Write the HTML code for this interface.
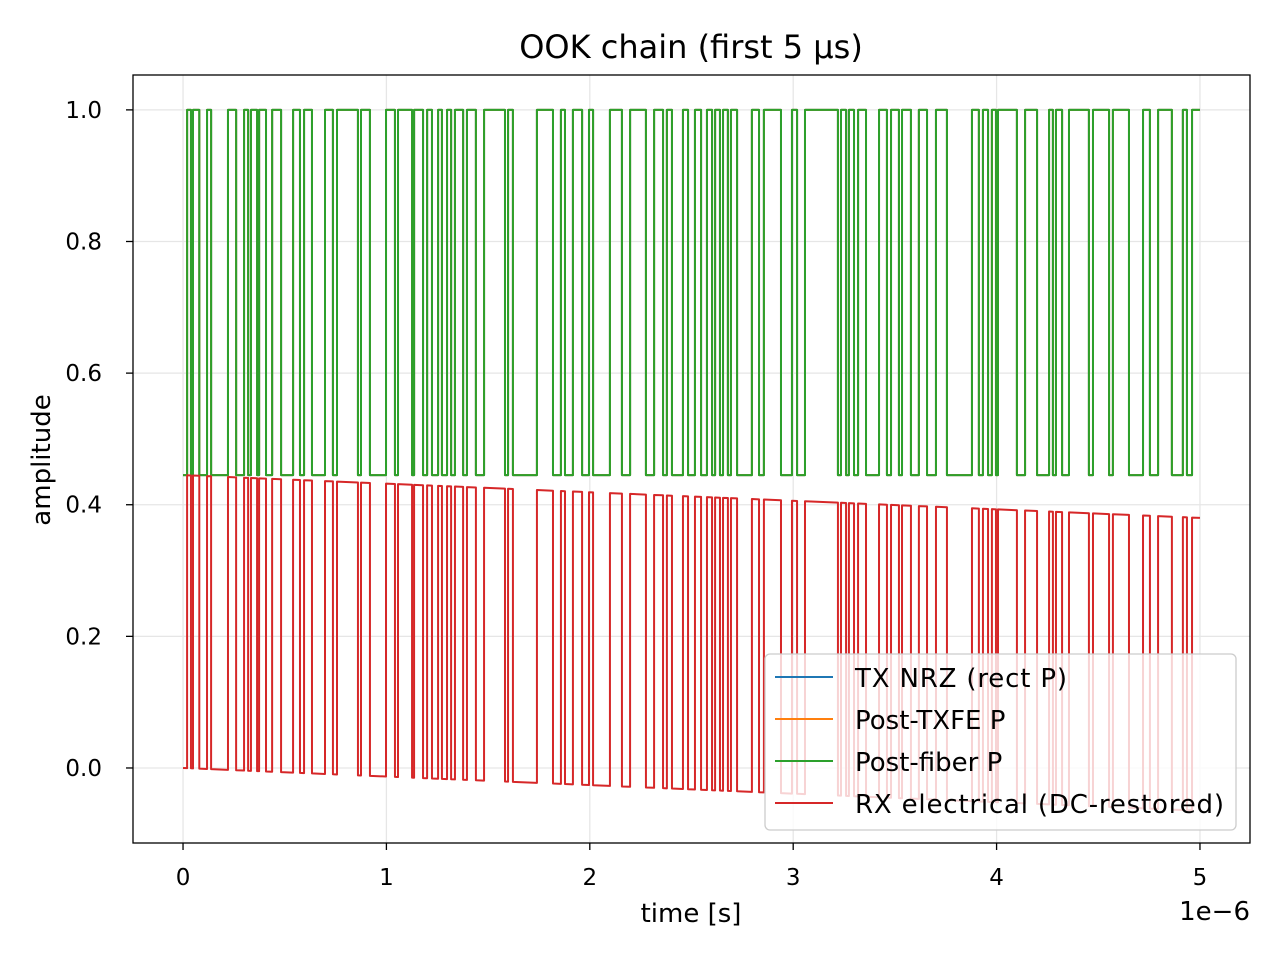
<!DOCTYPE html>
<html><head><meta charset="utf-8"><style>
html,body{margin:0;padding:0;background:#fff;}
svg{display:block;font-family:"DejaVu Sans","Liberation Sans",sans-serif;}
</style></head><body>
<svg id="chart" width="1280" height="960">
<rect x="0" y="0" width="1280" height="960" fill="#fff"/>
<g id="grid"></g>
<g id="series"></g>
<rect x="133" y="75" width="1117" height="768" fill="none" stroke="#000" stroke-width="1.3"/>
<g id="axes"></g>
<text x="691" y="58" text-anchor="middle" font-size="32">OOK chain (first 5 µs)</text>
<text x="691" y="922" text-anchor="middle" font-size="26">time [s]</text>
<text x="1250" y="920" text-anchor="end" font-size="26">1e−6</text>
<text transform="translate(50,460) rotate(-90)" text-anchor="middle" font-size="26">amplitude</text>
<g>
<rect x="765" y="654" width="471" height="176" rx="5" fill="#fff" fill-opacity="0.8" stroke="#ccc" stroke-width="1.3"/>
<g><line x1="775" y1="677" x2="833" y2="677" stroke="#1f77b4" stroke-width="2"/><text x="855" y="687" font-size="26" textLength="212">TX NRZ (rect P)</text></g>
<g><line x1="775" y1="719" x2="833" y2="719" stroke="#ff7f0e" stroke-width="2"/><text x="855" y="729" font-size="26">Post-TXFE P</text></g>
<g><line x1="775" y1="761" x2="833" y2="761" stroke="#2ca02c" stroke-width="2"/><text x="855" y="771" font-size="26">Post-fiber P</text></g>
<g><line x1="775" y1="803" x2="833" y2="803" stroke="#d62728" stroke-width="2"/><text x="855" y="813" font-size="26" textLength="369">RX electrical (DC-restored)</text></g>
</g>
</svg>
<script>
const riseTimes=[0.020,0.049,0.118,0.221,0.300,0.334,0.374,0.438,0.541,0.595,0.698,0.757,0.875,0.998,1.057,1.136,1.200,1.254,1.298,1.337,1.396,1.480,1.598,1.740,1.858,1.917,1.996,2.099,2.198,2.316,2.379,2.458,2.517,2.576,2.616,2.655,2.694,2.797,2.856,2.994,3.058,3.235,3.274,3.319,3.422,3.481,3.535,3.618,3.702,3.879,3.933,3.977,4.007,4.140,4.258,4.292,4.356,4.474,4.572,4.720,4.794,4.916,4.961];
const fallTimes=[0.039,0.080,0.138,0.261,0.320,0.364,0.408,0.482,0.575,0.634,0.737,0.860,0.919,1.042,1.126,1.180,1.224,1.273,1.318,1.377,1.440,1.583,1.622,1.819,1.878,1.962,2.016,2.158,2.276,2.360,2.404,2.483,2.547,2.601,2.640,2.679,2.724,2.832,2.940,3.019,3.220,3.260,3.299,3.358,3.461,3.520,3.579,3.658,3.756,3.913,3.958,3.997,4.100,4.199,4.277,4.322,4.454,4.553,4.651,4.754,4.862,4.936,5.000];
const lowLevel=0.445, highLevel=1.0;
const rxHigh=0.445, rxDriftPerUs=0.013;
const xTicks=[0,1,2,3,4,5];
const yTicks=[0.0,0.2,0.4,0.6,0.8,1.0];
const yTickLabels=["0.0","0.2","0.4","0.6","0.8","1.0"];

const X0=133,X1=1250,Y0=843,Y1=75;
const xmin=-0.246,xmax=5.246,ymin=-0.114,ymax=1.053;
const sx=t=>X0+(t-xmin)/(xmax-xmin)*(X1-X0);
const sy=v=>Y0-(v-ymin)/(ymax-ymin)*(Y0-Y1);
const NS="http://www.w3.org/2000/svg";
const grid=document.getElementById('grid'),axes=document.getElementById('axes'),series=document.getElementById('series');
function mk(tag,attrs,parent){const e=document.createElementNS(NS,tag);for(const k in attrs)e.setAttribute(k,attrs[k]);parent.appendChild(e);return e;}
xTicks.forEach(t=>{
 const x=sx(t);
 const g=mk('line',{x1:x,x2:x,y1:Y1,y2:Y0,stroke:'#e6e6e6','stroke-width':1.3},grid);
 
 
 const tk=mk('line',{x1:x,x2:x,y1:Y0,y2:Y0+7,stroke:'#000','stroke-width':1.3},axes);
 
 
 const lb=mk('text',{x:x,y:Y0+42,'text-anchor':'middle','font-size':23},axes);
 lb.textContent=String(t);
 
 
});
yTicks.forEach((v,i)=>{
 const y=sy(v);
 const g=mk('line',{x1:X0,x2:X1,y1:y,y2:y,stroke:'#e6e6e6','stroke-width':1.3},grid);
 
 
 const tk=mk('line',{x1:X0-7,x2:X0,y1:y,y2:y,stroke:'#000','stroke-width':1.3},axes);
 
 
 const lb=mk('text',{x:X0-31,y:y+8,'text-anchor':'end','font-size':23},axes);
 lb.textContent=yTickLabels[i];
 
 
});
function stepPath(levelFn){
 let d='M'+sx(0).toFixed(2)+','+sy(levelFn(0,0)).toFixed(2);
 for(let i=0;i<riseTimes.length;i++){
  const r=riseTimes[i],f=fallTimes[i];
  d+=' L'+sx(r).toFixed(2)+','+sy(levelFn(r,0)).toFixed(2);
  d+=' L'+sx(r).toFixed(2)+','+sy(levelFn(r,1)).toFixed(2);
  d+=' L'+sx(f).toFixed(2)+','+sy(levelFn(f,1)).toFixed(2);
  if(f<5) d+=' L'+sx(f).toFixed(2)+','+sy(levelFn(f,0)).toFixed(2);
 }
 const last=fallTimes[fallTimes.length-1];
 if(last<5) d+=' L'+sx(5).toFixed(2)+','+sy(levelFn(5,0)).toFixed(2);
 return d;
}
const opt=(b)=>b?highLevel:lowLevel;
const rx=(t,b)=>(b?rxHigh:0)-rxDriftPerUs*t;
[['#1f77b4','tx-nrz-line',(t,b)=>opt(b)],['#ff7f0e','post-txfe-line',(t,b)=>opt(b)],['#2ca02c','post-fiber-line',(t,b)=>opt(b)],['#d62728','rx-electrical-line',rx]].forEach(s=>{
 const p=mk('path',{d:stepPath(s[2]),fill:'none',stroke:s[0],'stroke-width':2,'stroke-linejoin':'round'},series);
 
 
});
</script>
</body></html>
